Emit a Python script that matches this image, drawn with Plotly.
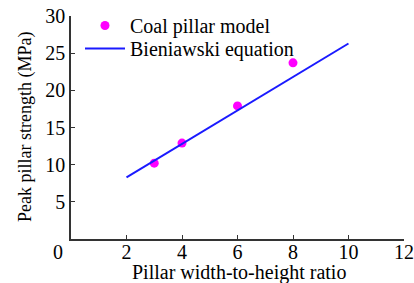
import plotly.graph_objects as go

# Data
model_x = [3, 4, 6, 8]
model_y = [10.2, 12.9, 17.9, 23.7]
eq_x = [2, 10]
eq_y = [8.3, 26.3]
x_ticks = [2, 4, 6, 8, 10, 12]
y_ticks = [5, 10, 15, 20, 25, 30]

FONT = "Liberation Serif, Times New Roman, serif"
f18 = dict(family=FONT, size=18, color="black")
f20 = dict(family=FONT, size=20, color="black")

L, R, T, B = 71, 10, 16, 44
PW, PH = 414 - L - R, 283 - T - B

fig = go.Figure()
fig.add_trace(go.Scatter(x=model_x, y=model_y, mode="markers", name="Coal pillar model",
                         marker=dict(color="#ff00ff", size=9), legend="legend"))
fig.add_trace(go.Scatter(x=eq_x, y=eq_y, mode="lines", name="Bieniawski equation",
                         line=dict(color="#1a1aff", width=2), legend="legend2"))

leg_common = dict(xanchor="left", yanchor="top", bgcolor="rgba(0,0,0,0)",
                  font=f20, itemwidth=40)

fig.update_layout(
    width=414, height=283,
    margin=dict(l=L, r=R, t=T, b=B, autoexpand=False),
    paper_bgcolor="white", plot_bgcolor="white",
    font=f20,
    showlegend=True,
    legend=dict(x=(80 - L) / PW, y=1 + 10 / PH, **leg_common),
    legend2=dict(x=(80 - L) / PW, y=1 - 13 / PH, **leg_common),
    xaxis=dict(range=[0, 12], tickvals=x_ticks, ticks="inside", ticklen=4,
               tickfont=f20, automargin=False, ticklabelstandoff=-6,
               showline=True, linecolor="#333", linewidth=1.5, tickcolor="#333",
               showgrid=False, zeroline=False),
    yaxis=dict(range=[0, 30], tickvals=y_ticks, ticks="inside", ticklen=4,
               tickfont=f20, automargin=False,
               showline=True, linecolor="#333", linewidth=1.5, tickcolor="#333",
               showgrid=False, zeroline=False),
)
fig.add_annotation(text="0", x=0, y=0, xref="x", yref="y", showarrow=False,
                   xanchor="center", yanchor="middle", xshift=-13, yshift=-13,
                   font=f20)
# axis titles
fig.add_annotation(text="Pillar width-to-height ratio", xref="paper", yref="paper",
                   x=(239 - L) / PW, y=-(272 - (T + PH)) / PH, xanchor="center",
                   yanchor="middle", showarrow=False, font=f20)
fig.add_annotation(text="Peak pillar strength (MPa)", xref="paper", yref="paper",
                   x=-(L - 25) / PW, y=(283 - 127 - B) / PH, xanchor="center",
                   yanchor="middle", textangle=-90, showarrow=False, font=f18)

fig.write_html("out.html", config={"displayModeBar": False},
               post_script="document.body.style.margin='0';document.body.style.overflow='hidden';")
